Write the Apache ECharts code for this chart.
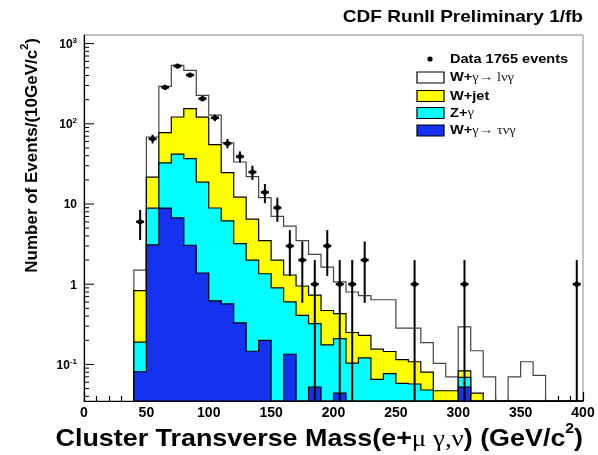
<!DOCTYPE html>
<html>
<head>
<meta charset="utf-8">
<script src="https://cdn.jsdelivr.net/npm/echarts@6/dist/echarts.min.js"></script>
<style>
html,body{margin:0;padding:0;background:#fff;}
#chart{width:598px;height:455px;}
</style>
</head>
<body>
<div id="chart"></div>
<script>
// ---- data ----
const BIN_WIDTH = 10;
const binLow = [40,50,60,70,80,90,100,110,120,130,140,150,160,170,180,190,200,210,220,230,240,250,260,270,280,290,300,310,320,330,340,350,360,370,380,390];

// stack components (events / 10 GeV), bottom to top
const tauNuGamma = [0.081,3.1,8.9,6.7,3.06,1.38,0.62,0.57,0.33,0.146,0.2,0,0.134,0,0.052,0,0.044,0,0,0,0,0,0,0,0,0,0.052,0,0,0,0,0,0,0,0,0];
const zGamma     = [0.109,5.8,23.6,35.3,33.7,17.4,8.3,5.6,2.87,1.85,1.15,0.9,0.47,0.41,0.27,0.175,0.166,0.104,0.121,0.065,0.077,0.058,0.057,0.048,0,0,0.017,0,0,0,0,0,0,0,0,0];
const wJet       = [0.64,12.8,45.2,79.6,118.2,102.2,46.1,18.4,9.0,4.5,2.15,1.1,0.7,0.54,0.41,0.295,0.22,0.146,0.109,0.09,0.068,0.057,0.051,0.032,0.047,0.047,0.014,0.044,0,0,0,0,0,0,0,0];
const lNuGamma   = [0.67,46.8,215,414,309,105,73,33.4,21.2,15.5,8.5,5.0,4.0,2.55,1.62,1.16,0.64,0.55,0.49,0.485,0.495,0.168,0.175,0.107,0.056,0.023,0.211,0.104,0.07,0,0.07,0.108,0.073,0,0,0];

// data points (bin centre, events)
const dataX = [45,55,65,75,85,95,105,115,125,135,145,155,165,175,185,195,205,215,225,265,305,395];
const dataN = [6,65,285,525,405,206,119,57,39,25,14,9,3,2,1,3,1,1,2,1,1,1];

const yDecades = [0.1,1,10,100,1000];
const xTickValues = [0,50,100,150,200,250,300,350,400];

const legendNames = ['Data 1765 events','W+γ→ lνγ','W+jet','Z+γ','W+γ→ τνγ'];

// ---- chart ----
const yMin = 0.035, yMax = 1280;
const FONT = '"Liberation Sans", Arial, Helvetica, sans-serif';
const SYM = '"Liberation Serif", "DejaVu Serif", serif';
const SX = 1.12; // horizontal stretch of the original text

const stackDefs = [
  {values: tauNuGamma, fill: '#1432f0', stroke: '#000'},
  {values: zGamma,     fill: '#00ffff', stroke: '#000'},
  {values: wJet,       fill: '#ffff00', stroke: '#000'},
  {values: lNuGamma,   fill: '#ffffff', stroke: '#444'}
];
let running = binLow.map(() => 0);
const layers = stackDefs.map(s => {
  running = running.map((r, i) => r + s.values[i]);
  return Object.assign({}, s, {cum: running.slice()});
});

function histSeries(layer, z) {
  return {
    type: 'custom', coordinateSystem: 'cartesian2d', clip: true, silent: true, z: z,
    data: binLow.map((lo, i) => [lo, Math.max(layer.cum[i], yMin)]),
    encode: {x: 0, y: 1},
    renderItem: function (params, api) {
      if (params.dataIndex !== 0) return null;
      const pts = [api.coord([binLow[0], yMin])];
      binLow.forEach((lo, i) => {
        const v = Math.max(layer.cum[i], yMin);
        pts.push(api.coord([lo, v]));
        pts.push(api.coord([lo + BIN_WIDTH, v]));
      });
      pts.push(api.coord([binLow[binLow.length - 1] + BIN_WIDTH, yMin]));
      return {type: 'polygon', shape: {points: pts},
        style: {fill: layer.fill, stroke: layer.stroke, lineWidth: 1.2}};
    }
  };
}

const yTicks = [];
for (let k = -2; k <= 3; k++) {
  for (let m = 1; m <= 9; m++) {
    const v = m * Math.pow(10, k);
    if (v > yMin && v < yMax) yTicks.push([0, v, m === 1 ? 1 : 0]);
  }
}

const series = [];
for (let i = layers.length - 1; i >= 0; i--) series.push(histSeries(layers[i], 2 + (layers.length - 1 - i)));

series.push({
  type: 'custom', coordinateSystem: 'cartesian2d', clip: true, silent: true, z: 10,
  data: dataX.map((x, i) => [x, dataN[i]]),
  encode: {x: 0, y: 1},
  renderItem: function (params, api) {
    const x = api.value(0), n = api.value(1), e = Math.sqrt(n);
    const c = api.coord([x, n]);
    const top = api.coord([x, n + e]);
    const bot = api.coord([x, Math.max(n - e, yMin)]);
    return {type: 'group', children: [
      {type: 'line', shape: {x1: c[0], y1: top[1], x2: c[0], y2: bot[1]}, style: {stroke: '#000', lineWidth: 2}},
      {type: 'line', shape: {x1: c[0] - 4, y1: c[1], x2: c[0] + 4, y2: c[1]}, style: {stroke: '#000', lineWidth: 2.5}},
      {type: 'circle', shape: {cx: c[0], cy: c[1], r: 2.6}, style: {fill: '#000'}}
    ]};
  }
});

series.push({
  type: 'custom', coordinateSystem: 'cartesian2d', clip: false, silent: true, z: 12,
  data: yTicks, encode: {x: 0, y: 1},
  renderItem: function (params, api) {
    const p = api.coord([0, api.value(1)]);
    const len = api.value(2) ? 10 : 5;
    return {type: 'line', shape: {x1: p[0], y1: p[1], x2: p[0] + len, y2: p[1]}, style: {stroke: '#000', lineWidth: 1}};
  }
});

const legendRich = {
  b: {fontFamily: FONT, fontWeight: 'bold', fontSize: 13, fill: '#000'},
  s: {fontFamily: SYM, fontSize: 13, fill: '#222'}
};
function legendRow(y, fill, richText) {
  return [
    {type: 'rect', shape: {x: 417, y: y - 5.5, width: 27, height: 11}, style: {fill: fill, stroke: '#000', lineWidth: 1.2}, z: 20},
    {type: 'text', x: 450, y: y, scaleX: SX, style: {text: richText, textVerticalAlign: 'middle', rich: legendRich}, z: 20}
  ];
}
function splitName(name) {
  const idx = name.indexOf('γ');
  if (idx < 0) return '{b|' + name + '}';
  return '{b|' + name.slice(0, idx) + '}{s|' + name.slice(idx) + '}';
}

const graphics = [
  {type: 'text', x: 583, y: 17, scaleX: SX, style: {text: 'CDF RunII Preliminary 1/fb', fontFamily: FONT, fontWeight: 'bold', fontSize: 17, fill: '#000', textAlign: 'right', textVerticalAlign: 'middle'}},
  {type: 'text', x: 30, y: 38, rotation: Math.PI / 2, style: {
    text: '{t|Number of Events/(10GeV/c}{sup|2}{t|)}', textAlign: 'right', textVerticalAlign: 'middle',
    rich: {t: {fontFamily: FONT, fontWeight: 'bold', fontSize: 17, fill: '#000', lineHeight: 22, verticalAlign: 'bottom'},
           sup: {fontFamily: FONT, fontWeight: 'bold', fontSize: 11, fill: '#000', lineHeight: 22, verticalAlign: 'top'}}}},
  {type: 'text', x: 583, y: 437, scaleX: SX, style: {
    text: '{t|Cluster Transverse Mass(e+}{s|μ γ,ν}{t|) (GeV/c}{sup|2}{t|)}', textAlign: 'right', textVerticalAlign: 'middle',
    rich: {t: {fontFamily: FONT, fontWeight: 'bold', fontSize: 24, fill: '#000', lineHeight: 29, verticalAlign: 'bottom'},
           s: {fontFamily: SYM, fontSize: 24, fill: '#000', lineHeight: 29, verticalAlign: 'bottom'},
           sup: {fontFamily: FONT, fontWeight: 'bold', fontSize: 14, fill: '#000', lineHeight: 29, verticalAlign: 'top'}}}},
  {type: 'circle', shape: {cx: 430, cy: 59, r: 2.6}, style: {fill: '#000'}, z: 20},
  {type: 'text', x: 450, y: 59, scaleX: SX, style: {text: legendNames[0], fontFamily: FONT, fontWeight: 'bold', fontSize: 13, fill: '#000', textVerticalAlign: 'middle'}, z: 20}
].concat(
  legendRow(77.5, layers[3].fill, splitName(legendNames[1])),
  legendRow(96, layers[2].fill, splitName(legendNames[2])),
  legendRow(113, layers[1].fill, splitName(legendNames[3])),
  legendRow(130.5, layers[0].fill, splitName(legendNames[4]))
);

const chart = echarts.init(document.getElementById('chart'), null, {renderer: 'canvas'});
chart.setOption({
  animation: false,
  backgroundColor: '#fff',
  grid: {left: 84, right: 15, top: 35, bottom: 54, show: true, borderColor: '#888', borderWidth: 1, backgroundColor: 'transparent'},
  xAxis: {
    type: 'value', min: xTickValues[0], max: xTickValues[xTickValues.length - 1], interval: 50,
    axisLine: {show: true, onZero: false, lineStyle: {color: '#000', width: 1.2}},
    axisTick: {show: true, inside: true, length: 9, lineStyle: {color: '#000', width: 1.2}},
    minorTick: {show: true, splitNumber: 5, length: 5, lineStyle: {color: '#000', width: 1.2}},
    splitLine: {show: false},
    axisLabel: {color: '#000', fontFamily: FONT, fontWeight: 'bold', fontSize: 14, margin: 5,
      formatter: v => (xTickValues.indexOf(v) >= 0 ? String(v) : '')}
  },
  yAxis: {
    type: 'log', logBase: 10, min: yMin, max: yMax,
    axisLine: {show: true, onZero: false, lineStyle: {color: '#000', width: 1.2}},
    axisTick: {show: false},
    splitLine: {show: false},
    axisLabel: {
      margin: 7,
      formatter: function (v) {
        const l = Math.log10(v), e = Math.round(l);
        if (Math.abs(l - e) > 1e-6) return '';
        if (!yDecades.some(d => Math.abs(d - v) / d < 1e-6)) return '';
        if (e === 0) return '{b|1}';
        if (e === 1) return '{b|10}';
        return '{b|10}{sup|' + e + '}';
      },
      rich: {
        b: {fontFamily: FONT, fontWeight: 'bold', fontSize: 12, color: '#000', lineHeight: 14, verticalAlign: 'bottom'},
        sup: {fontFamily: FONT, fontWeight: 'bold', fontSize: 8, color: '#000', lineHeight: 14, verticalAlign: 'top'}
      }
    }
  },
  graphic: graphics,
  series: series
});
</script>
</body>
</html>
